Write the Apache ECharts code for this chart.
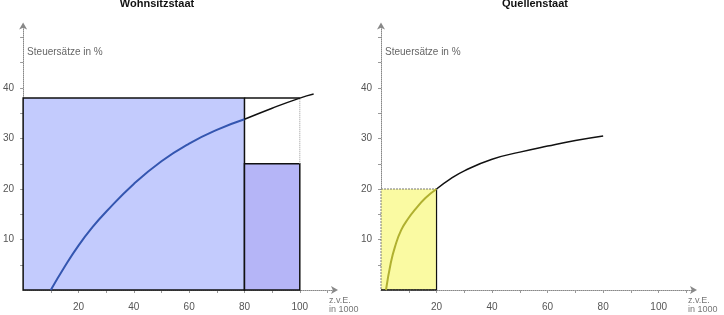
<!DOCTYPE html>
<html><head><meta charset="utf-8">
<script src="https://cdn.jsdelivr.net/npm/echarts@6/dist/echarts.min.js"></script>
<style>html,body{margin:0;padding:0;background:#fff}#c{width:724px;height:315px}</style>
</head><body><div id="c"></div>
<script>
// ---- data ----
const titles = ['Wohnsitzstaat', 'Quellenstaat'];
const yName = 'Steuersätze in %';
const xName = 'z.v.E.\nin 1000';
const xLabelValues = [20, 40, 60, 80, 100];
const xTickValues = [10, 20, 30, 40, 50, 60, 70, 80, 90, 100, 110];
const yLabelValues = [10, 20, 30, 40];
const yTickValues = [5, 10, 15, 20, 25, 30, 35, 40, 45, 50];
// Wohnsitzstaat: curve inside rectangle (blue) and beyond (black)
const wohnCurveInX = [10, 15, 20, 25, 30, 40, 50, 60, 70, 80];
const wohnCurveInY = [0, 4.6, 8.8, 12.4, 15.5, 21.0, 25.5, 29.0, 31.7, 33.8];
const wohnCurveOutX = [80, 90, 100, 105];
const wohnCurveOutY = [33.8, 36, 38, 38.8];
// rectangles: [x0, x1, yTop]
const wohnBigRect = [0, 80, 38];
const wohnSmallRect = [80, 100, 25];
// Quellenstaat
const quelleCurveInX = [1.8, 3.5, 5, 7.3, 10, 12.1, 16, 20];
const quelleCurveInY = [0, 5.3, 8.5, 11.9, 14.3, 15.8, 18.2, 20];
const quelleCurveOutX = [20, 25, 30, 40, 50, 60, 70, 80];
const quelleCurveOutY = [20, 22.0, 23.6, 25.9, 27.3, 28.5, 29.6, 30.5];
const quelleRect = [0, 20, 20];

const zip = (xs, ys) => xs.map((x, i) => [x, ys[i]]);
const FONT = 'Liberation Sans, Arial, sans-serif';

function rectSeries(idx, r, fill, border, bw, btype) {
  return {
    type: 'custom', xAxisIndex: idx, yAxisIndex: idx, z: 1,
    data: [r],
    renderItem: (params, api) => {
      const p0 = api.coord([api.value(0), 0]);
      const p1 = api.coord([api.value(1), api.value(2)]);
      return {
        type: 'rect',
        shape: { x: p0[0], y: p1[1], width: p1[0] - p0[0], height: p0[1] - p1[1] },
        style: { fill: fill, stroke: border, lineWidth: bw, lineDash: btype }
      };
    },
    silent: true
  };
}
function lineSeries(idx, data, color, width, type, z) {
  return {
    type: 'line', xAxisIndex: idx, yAxisIndex: idx, data: data,
    smooth: data.length > 2 ? 0.5 : false,
    symbol: 'none', z: z || 3, silent: true,
    lineStyle: { color: color, width: width, type: type || 'solid' }
  };
}

function xAxis(idx) {
  return {
    type: 'value', gridIndex: idx, min: 0, max: 112,
    axisLine: { show: true, lineStyle: { color: '#888', type: 'dotted', width: 1 },
      symbol: ['none', 'arrow'], symbolSize: [6, 7], symbolOffset: [0, 5] },
    axisTick: { show: true, length: 3, customValues: xTickValues, lineStyle: { color: '#999' } },
    axisLabel: { customValues: xLabelValues, color: '#555', fontSize: 10, fontFamily: FONT, margin: 12 },
    splitLine: { show: false },
    name: xName, nameLocation: 'end', nameGap: -4,
    nameTextStyle: { align: 'left', verticalAlign: 'top', color: '#777', fontSize: 9, lineHeight: 9,
      fontFamily: FONT, padding: [6, 0, 0, 0] }
  };
}
function yAxis(idx) {
  return {
    type: 'value', gridIndex: idx, min: 0, max: 52,
    axisLine: { show: true, lineStyle: { color: '#888', type: 'dotted', width: 1 },
      symbol: ['none', 'arrow'], symbolSize: [6, 7], symbolOffset: [0, 5] },
    axisTick: { show: true, length: 3, customValues: yTickValues, lineStyle: { color: '#999' } },
    axisLabel: { customValues: yLabelValues, color: '#555', fontSize: 10, fontFamily: FONT, margin: 9 },
    splitLine: { show: false },
    name: yName, nameLocation: 'end', nameGap: -25,
    nameTextStyle: { align: 'left', verticalAlign: 'middle', color: '#666', fontSize: 10,
      fontFamily: FONT, padding: [0, 0, 0, 4] }
  };
}

const option = {
  animation: false,
  title: [
    { text: titles[0], left: 152, top: -7, textAlign: 'center',
      textStyle: { fontSize: 11, fontWeight: 'bold', color: '#111', fontFamily: FONT } },
    { text: titles[1], left: 530, top: -7, textAlign: 'center',
      textStyle: { fontSize: 11, fontWeight: 'bold', color: '#111', fontFamily: FONT } }
  ],
  grid: [
    { left: 22, width: 311, top: 27.4, bottom: 25 },
    { left: 381, width: 311, top: 27.4, bottom: 25 }
  ],
  xAxis: [xAxis(0), xAxis(1)],
  yAxis: [yAxis(0), yAxis(1)],
  series: [
    rectSeries(0, wohnBigRect, '#c3cbfd', '#111', 1.5),
    rectSeries(0, wohnSmallRect, '#b5b5f7', '#111', 1.5),
    lineSeries(0, [[wohnSmallRect[0], wohnBigRect[2]], [wohnSmallRect[1], wohnBigRect[2]]], '#111', 1.5, 'solid', 2),
    lineSeries(0, [[wohnSmallRect[1], wohnSmallRect[2]], [wohnSmallRect[1], wohnBigRect[2]]], '#999', 1, 'dotted', 2),
    lineSeries(0, zip(wohnCurveInX, wohnCurveInY), '#3456b0', 2),
    lineSeries(0, zip(wohnCurveOutX, wohnCurveOutY), '#111', 1.5),
    rectSeries(1, quelleRect, '#fafaa2', '#777', 1, [2, 1]),
    lineSeries(1, [[quelleRect[1], 0], [quelleRect[1], quelleRect[2]]], '#111', 1.2, 'solid', 2),
    lineSeries(1, [[quelleRect[0], 0], [quelleRect[1], 0]], '#111', 1.5, 'solid', 2),
    lineSeries(1, zip(quelleCurveInX, quelleCurveInY), '#b0b030', 2),
    lineSeries(1, zip(quelleCurveOutX, quelleCurveOutY), '#111', 1.5)
  ]
};
echarts.init(document.getElementById('c')).setOption(option);
</script></body></html>
